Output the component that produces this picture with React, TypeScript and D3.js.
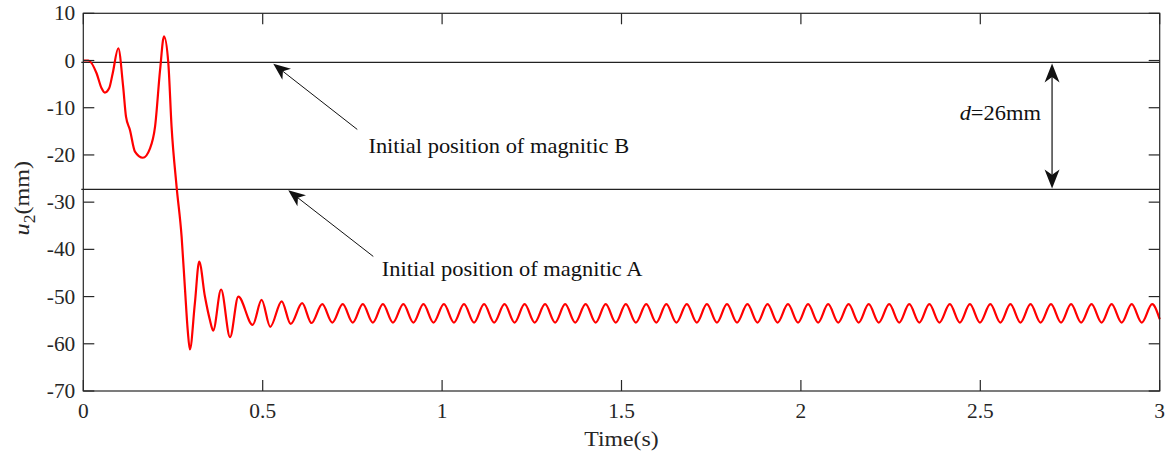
import React from "react";
import * as d3 from "d3";

// ---------- data ----------
const xTicks = [0, 0.5, 1, 1.5, 2, 2.5, 3];
const xTickLabels = ["0", "0.5", "1", "1.5", "2", "2.5", "3"];
const yTicks = [10, 0, -10, -20, -30, -40, -50, -60, -70];
const yTickLabels = ["10", "0", "-10", "-20", "-30", "-40", "-50", "-60", "-70"];

// time (s) of each read point of the u2 response
const timeS = [
  0, 0.014, 0.037, 0.051, 0.06, 0.072, 0.082, 0.0975, 0.111, 0.119, 0.13, 0.144,
  0.166, 0.186, 0.2, 0.214, 0.225, 0.237, 0.246, 0.26, 0.274, 0.283, 0.291, 0.297,
  0.311, 0.323, 0.339, 0.353, 0.362, 0.384, 0.409, 0.432, 0.472, 0.497, 0.521,
  0.553, 0.578, 0.61, 0.636,
  0.666, 0.694, 0.723, 0.751, 0.779, 0.807, 0.835, 0.863, 0.892, 0.92, 0.948,
  0.976, 1.005, 1.033, 1.061, 1.089, 1.117, 1.145, 1.174, 1.202, 1.23, 1.258,
  1.287, 1.315, 1.343, 1.371, 1.4, 1.428, 1.456, 1.484, 1.512, 1.54, 1.569,
  1.597, 1.625, 1.653, 1.682, 1.71, 1.738, 1.766, 1.794, 1.822, 1.851, 1.879,
  1.907, 1.935, 1.964, 1.992, 2.02, 2.048, 2.076, 2.104, 2.133, 2.161, 2.189,
  2.217, 2.246, 2.274, 2.302, 2.33, 2.358, 2.386, 2.415, 2.443, 2.471, 2.499,
  2.528, 2.556, 2.584, 2.612, 2.64, 2.668, 2.697, 2.725, 2.753, 2.781, 2.81,
  2.838, 2.866, 2.894, 2.922, 2.95, 2.979, 3.0,
];

// displacement u2 (mm) at those times
const u2mm = [
  0, 0, -2.7, -5.9, -6.8, -5.9, -2.7, 2.6, -5.5, -11.9, -14.7, -19.3,
  -20.6, -18.6, -14.0, -2.0, 5.1, -0.6, -14.0, -26.7, -37.3, -47.9, -57.1, -61.2,
  -51.4, -42.6, -50.0, -55.0, -57.2, -48.5, -58.6, -50.0, -56.0, -50.7, -56.4,
  -51.0, -55.8, -51.4, -55.6,
  -51.6, -55.5, -51.6, -55.5, -51.6, -55.5, -51.6, -55.5, -51.6, -55.5, -51.6,
  -55.5, -51.6, -55.5, -51.6, -55.5, -51.6, -55.5, -51.6, -55.5, -51.6, -55.5,
  -51.6, -55.5, -51.6, -55.5, -51.6, -55.5, -51.6, -55.5, -51.6, -55.5, -51.6,
  -55.5, -51.6, -55.5, -51.6, -55.5, -51.6, -55.5, -51.6, -55.5, -51.6, -55.5,
  -51.6, -55.5, -51.6, -55.5, -51.6, -55.5, -51.6, -55.5, -51.6, -55.5, -51.6,
  -55.5, -51.6, -55.5, -51.6, -55.5, -51.6, -55.5, -51.6, -55.5, -51.6, -55.5,
  -51.6, -55.5, -51.6, -55.5, -51.6, -55.5, -51.6, -55.5, -51.6, -55.5, -51.6,
  -55.5, -51.6, -55.5, -51.6, -55.5, -51.6, -54.8,
];

const positionB = -0.4; // initial position of magnet B (mm)
const positionA = -27.3; // initial position of magnet A (mm)
const gapLabel = "=26mm";
const labelB = "Initial position of magnitic B";
const labelA = "Initial position of magnitic A";

// ---------- layout ----------
const W = 1170;
const H = 455;
const left = 83.3;
const right = 1159.7;
const top = 13.3;
const bottom = 391;
const FONT = "'Liberation Serif', 'Times New Roman', serif";
const AX = "#262626";

function arrowHead(
  tipX: number,
  tipY: number,
  fromX: number,
  fromY: number,
  len: number,
  halfW: number
) {
  const dx = tipX - fromX;
  const dy = tipY - fromY;
  const d = Math.hypot(dx, dy);
  const ux = dx / d;
  const uy = dy / d;
  const nx = -uy;
  const ny = ux;
  const bx = tipX - ux * len;
  const by = tipY - uy * len;
  const notchX = tipX - ux * len * 0.72;
  const notchY = tipY - uy * len * 0.72;
  const pts = [
    [tipX, tipY],
    [bx + nx * halfW, by + ny * halfW],
    [notchX, notchY],
    [bx - nx * halfW, by - ny * halfW],
  ];
  return { d: "M" + pts.map((p) => p.join(",")).join("L") + "Z", notchX, notchY };
}

function SText(props: {
  x: number;
  y: number;
  sx: number;
  size: number;
  anchor?: string;
  fill?: string;
  children: React.ReactNode;
}) {
  return (
    <g transform={`translate(${props.x},${props.y}) scale(${props.sx},1)`}>
      <text x={0} y={0} textAnchor={props.anchor || "start"} fontSize={props.size} fill={props.fill || "#111"}>
        {props.children}
      </text>
    </g>
  );
}

export default function App() {
  const x = d3.scaleLinear().domain([0, 3]).range([left, right]);
  const y = d3.scaleLinear().domain([-70, 10]).range([bottom, top]);

  const pts: [number, number][] = timeS.map((t, i) => [t, u2mm[i]]);
  const line = d3
    .line<[number, number]>()
    .x((d) => x(d[0]))
    .y((d) => y(d[1]))
    .curve(d3.curveMonotoneX);

  const bTip = [x(0.5295), y(-0.7)];
  const bTail = [x(0.7636), y(-14.6)];
  const aTip = [x(0.5713), y(-27.5)];
  const aTail = [x(0.8082), y(-41.5)];
  const headB = arrowHead(bTip[0], bTip[1], bTail[0], bTail[1], 17, 7);
  const headA = arrowHead(aTip[0], aTip[1], aTail[0], aTail[1], 17, 7);

  const dx = x(2.7);
  const yB = y(positionB);
  const yA = y(positionA);
  const headTop = arrowHead(dx, yB + 1, dx, yA, 19, 7.5);
  const headBot = arrowHead(dx, yA - 1, dx, yB, 19, 7.5);

  const tickLen = 11;

  return (
    <svg
      width={W}
      height={H}
      style={{ position: "absolute", left: 0, top: 0, background: "#fff" }}
      fontFamily={FONT}
    >
      <rect x={0} y={0} width={W} height={H} fill="#fff" />

      <line x1={left - 2} x2={right} y1={yB} y2={yB} stroke="#222" strokeWidth={1.2} />
      <line x1={left - 2} x2={right} y1={yA} y2={yA} stroke="#222" strokeWidth={1.2} />

      <path d={line(pts) || ""} fill="none" stroke="#ff0000" strokeWidth={2.2} strokeLinejoin="round" />

      <rect
        x={left}
        y={top}
        width={right - left}
        height={bottom - top}
        fill="none"
        stroke={AX}
        strokeWidth={1.2}
      />

      {xTicks.map((t, i) => (
        <g key={"xt" + i}>
          <line x1={x(t)} x2={x(t)} y1={bottom} y2={bottom - tickLen} stroke={AX} strokeWidth={1.2} />
          <line x1={x(t)} x2={x(t)} y1={top} y2={top + tickLen} stroke={AX} strokeWidth={1.2} />
          <SText x={x(t)} y={bottom + 27} sx={1.07} size={20} anchor="middle" fill={AX}>
            {xTickLabels[i]}
          </SText>
        </g>
      ))}

      {yTicks.map((v, i) => (
        <g key={"yt" + i}>
          <line x1={left} x2={left + tickLen} y1={y(v)} y2={y(v)} stroke={AX} strokeWidth={1.2} />
          <line x1={right} x2={right - tickLen} y1={y(v)} y2={y(v)} stroke={AX} strokeWidth={1.2} />
          <SText x={left - 8} y={y(v) + 7} sx={1.07} size={20} anchor="end" fill={AX}>
            {yTickLabels[i]}
          </SText>
        </g>
      ))}

      <SText x={(left + right) / 2} y={446} sx={1.08} size={22} anchor="middle" fill={AX}>
        Time(s)
      </SText>
      <text transform={`translate(29, ${(top + bottom) / 2 - 4}) rotate(-90) scale(1.1,1)`} textAnchor="middle" fontSize={22} fill={AX}>
        <tspan fontStyle="italic">u</tspan>
        <tspan fontSize={16} dy={6}>2</tspan>
        <tspan dy={-6}>(mm)</tspan>
      </text>

      <line x1={bTail[0]} y1={bTail[1]} x2={headB.notchX} y2={headB.notchY} stroke="#111" strokeWidth={1} />
      <path d={headB.d} fill="#111" />
      <SText x={x(0.7946)} y={y(-19.5)} sx={1.07} size={21} fill="#111">
        {labelB}
      </SText>

      <line x1={aTail[0]} y1={aTail[1]} x2={headA.notchX} y2={headA.notchY} stroke="#111" strokeWidth={1} />
      <path d={headA.d} fill="#111" />
      <SText x={x(0.8317)} y={y(-45.6)} sx={1.07} size={21} fill="#111">
        {labelA}
      </SText>

      <line x1={dx} x2={dx} y1={headTop.notchY} y2={headBot.notchY} stroke="#111" strokeWidth={1.2} />
      <path d={headTop.d} fill="#111" />
      <path d={headBot.d} fill="#111" />
      <SText x={x(2.669)} y={y(-12.6)} sx={1.07} size={21} anchor="end" fill="#111">
        <tspan fontStyle="italic">d</tspan>
        {gapLabel}
      </SText>
    </svg>
  );
}
